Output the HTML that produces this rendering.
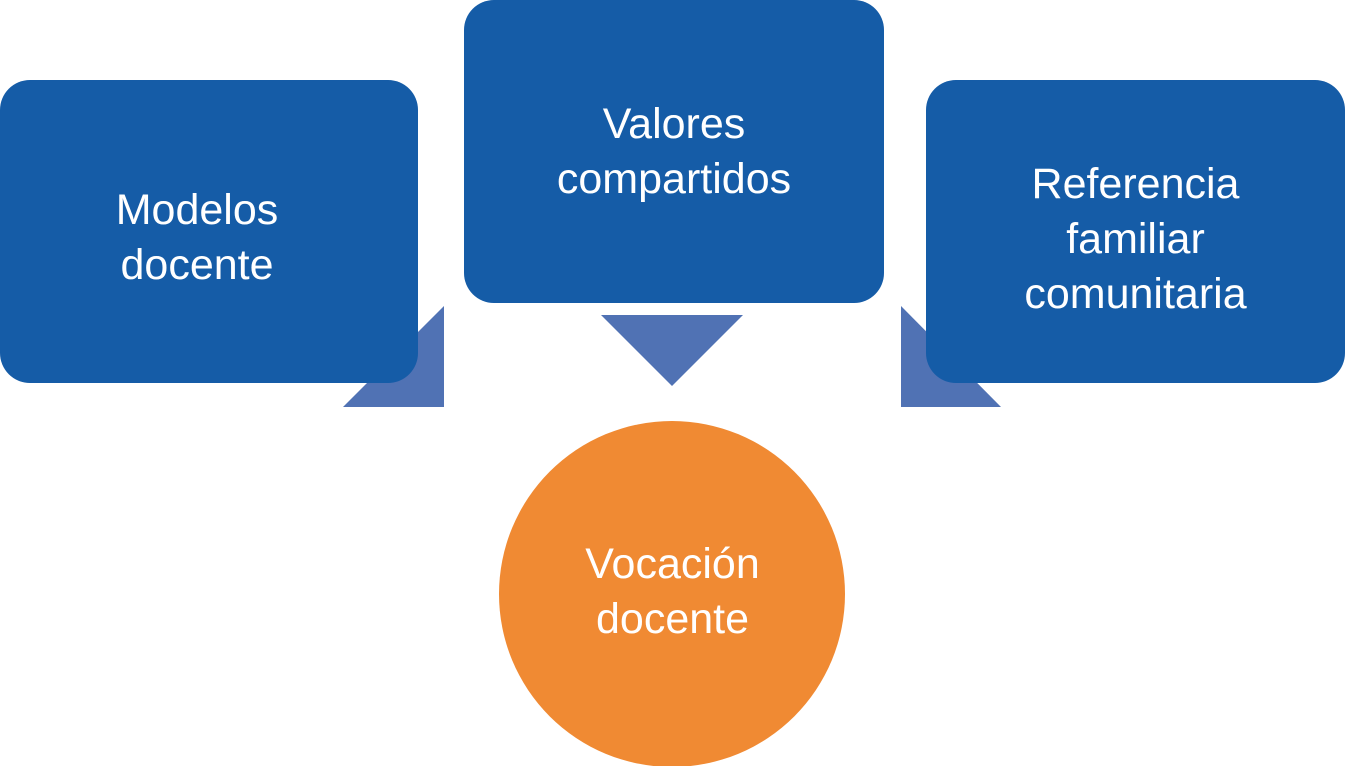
<!DOCTYPE html>
<html><head><meta charset="utf-8"><style>
body{margin:0;width:1345px;height:766px;background:#fff;overflow:hidden;position:relative;font-family:"Liberation Sans",sans-serif}
.b{position:absolute;background:#155ca7;border-radius:30px;color:#fff;font-size:43px;line-height:55px;display:flex;align-items:center;justify-content:center;text-align:center;box-sizing:border-box}
</style></head><body>
<svg width="1345" height="766" style="position:absolute;left:0;top:0">
<polygon points="343,407 444,407 444,306" fill="#5072b4"/>
<polygon points="901,306 901,407 1001,407" fill="#5072b4"/>
<polygon points="601,315 743,315 672,386" fill="#5072b4"/>
<circle cx="672" cy="594" r="173" fill="#f08a33"/>
</svg>
<div class="b" style="left:0;top:80px;width:418px;height:303px;padding-right:24px;padding-top:12px">Modelos<br>docente</div>
<div class="b" style="left:464px;top:0;width:420px;height:303px">Valores<br>compartidos</div>
<div class="b" style="left:926px;top:80px;width:419px;height:303px;padding-top:16px">Referencia<br>familiar<br>comunitaria</div>
<div class="b" style="left:500px;top:421px;width:345px;height:345px;background:transparent;border-radius:50%;padding-bottom:4px">Vocación<br>docente</div>
</body></html>
